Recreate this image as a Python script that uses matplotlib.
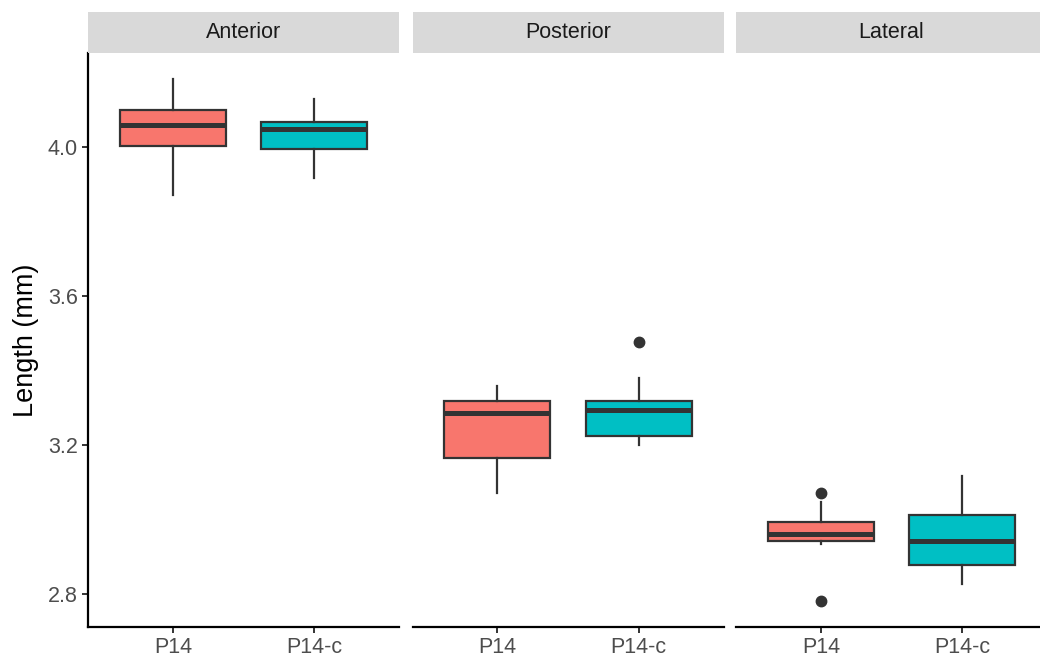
import matplotlib.pyplot as plt

plt.rcParams['font.family'] = ['Liberation Sans', 'DejaVu Sans']

facets = ['Anterior', 'Posterior', 'Lateral']
groups = ['P14', 'P14-c']
colors = ['#F8766D', '#00BFC4']

# five-number summaries per facet, one entry per group: (whislo, q1, med, q3, whishi)
anterior = [(3.872, 4.002, 4.059, 4.101, 4.182),
            (3.917, 3.995, 4.050, 4.068, 4.128)]
posterior = [(3.072, 3.165, 3.287, 3.318, 3.359),
             (3.199, 3.224, 3.294, 3.318, 3.381)]
lateral = [(2.935, 2.941, 2.960, 2.992, 3.048),
           (2.827, 2.877, 2.943, 3.013, 3.116)]

anterior_out = [[], []]
posterior_out = [[], [3.476]]
lateral_out = [[3.072, 2.782], []]

summaries = [anterior, posterior, lateral]
outliers = [anterior_out, posterior_out, lateral_out]

yticks = [2.8, 3.2, 3.6, 4.0]

# y range: data extent plus 5% either side
allvals = [v for s in summaries for g in s for v in g]
allvals += [v for o in outliers for g in o for v in g]
lo, hi = min(allvals), max(allvals)
pad = (hi - lo) * 0.05

W, H = 1040, 662
fig = plt.figure(figsize=(W / 100, H / 100), dpi=100)

panel_left = [88.2, 412.5, 736.0]
panel_w = 311.0
top, bottom = 53.3, 626.7
strip_top = 11.7
edge = '#333333'

for i, name in enumerate(facets):
    ax = fig.add_axes([panel_left[i] / W, (H - bottom) / H,
                       panel_w / W, (bottom - top) / H])
    stats = []
    for j, g in enumerate(groups):
        wl, q1, med, q3, wh = summaries[i][j]
        stats.append(dict(label=g, whislo=wl, q1=q1, med=med, q3=q3,
                          whishi=wh, fliers=outliers[i][j]))
    bp = ax.bxp(stats, positions=[1, 2], widths=0.75, patch_artist=True,
                showcaps=False,
                boxprops=dict(edgecolor=edge, linewidth=1.6),
                whiskerprops=dict(color=edge, linewidth=1.6),
                medianprops=dict(color=edge, linewidth=3.6, solid_capstyle='butt'),
                flierprops=dict(marker='o', markerfacecolor=edge,
                                markeredgecolor=edge, markersize=7.5))
    for patch, c in zip(bp['boxes'], colors):
        patch.set_facecolor(c)

    ax.set_xlim(0.4, 2.6)
    ax.set_ylim(lo - pad, hi + pad)
    ax.set_yticks(yticks)
    ax.set_yticklabels([f'{t:.1f}' for t in yticks])
    ax.set_xticks([1, 2])
    ax.set_xticklabels(groups)

    for s in ['top', 'right']:
        ax.spines[s].set_visible(False)
    ax.spines['bottom'].set_linewidth(1.6)
    ax.spines['left'].set_linewidth(1.6)
    ax.tick_params(axis='both', colors=edge, labelcolor='#4D4D4D',
                   labelsize=15.5, length=4.5, width=1.4, pad=3)
    if i == 0:
        ax.set_ylabel('Length (mm)', fontsize=19.5, color='black', labelpad=6)
    else:
        ax.spines['left'].set_visible(False)
        ax.tick_params(axis='y', left=False, labelleft=False)

    # facet strip
    sax = fig.add_axes([panel_left[i] / W, (H - top) / H,
                        panel_w / W, (top - strip_top) / H])
    sax.set_facecolor('#D9D9D9')
    sax.set_xticks([])
    sax.set_yticks([])
    for s in sax.spines.values():
        s.set_visible(False)
    sax.text(0.5, 0.5, name, ha='center', va='center', fontsize=15.5,
             color='#1A1A1A', transform=sax.transAxes)

fig.savefig('out.png', dpi=100)
